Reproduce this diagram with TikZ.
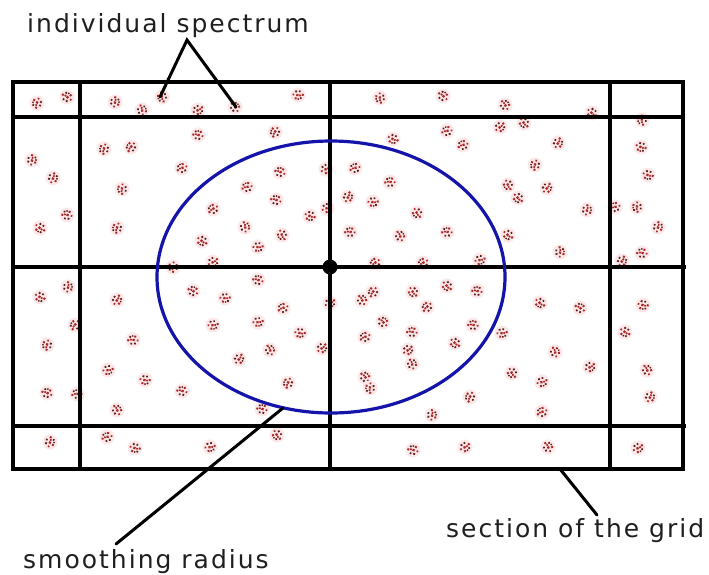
\documentclass[tikz,border=0pt]{standalone}
\usepackage{fontspec}
\setmainfont{DejaVu Sans}[LetterSpace=8]
\begin{document}
\begin{tikzpicture}[x=1pt,y=-1pt,
  gridline/.style={line width=4pt,black},
  leader/.style={line width=3pt,black,line cap=round},
  circ/.style={line width=3.2pt,draw={rgb,255:red,20;green,20;blue,170}},
  lbl/.style={font=\fontsize{25}{28}\selectfont,text=black!88,inner sep=0pt,anchor=base west},
  halo/.style={fill={rgb,255:red,252;green,232;blue,232}},
  sred/.style={fill={rgb,255:red,170;green,40;blue,40}},
  sdark/.style={fill={rgb,255:red,90;green,30;blue,30}},
  spec/.pic={
    \fill[halo] (0,0) circle (7.5);
    \fill[sred] (-4,-2.5) circle (1.4);
    \fill[sdark] (-0.5,-4.2) circle (1.2);
    \fill[sred] (3.8,-1.5) circle (1.4);
    \fill[sdark] (-3.5,2) circle (1.2);
    \fill[sred] (0.5,0.3) circle (1.6);
    \fill[sred] (-1.5,-1.5) circle (1.2);
    \fill[sred] (3.5,3) circle (1.2);
    \fill[sdark] (-0.5,4) circle (1.3);
    \fill[sdark] (2,-3.5) circle (1);
  }]
\useasboundingbox (0,0) rectangle (709,574);
\fill[white] (0,0) rectangle (709,574);

% red speckles (individual spectra)
\pgfmathsetseed{11}
\foreach \px/\py in {
 37/103, 67/97, 115/102, 142/110, 162/97, 198/110, 235/107, 298/95,
 198/135, 275/132, 104/149, 131/147, 32/160, 53/178, 182/168, 280/172,
 326/169, 355/168, 122/189, 247/187, 276/200, 67/215, 213/209, 310/216,
 327/208, 348/197, 40/228, 117/228, 245/227, 282/235, 350/232, 202/241,
 258/247, 213/262, 173/267,
 380/98, 443/96, 505/105, 592/113, 447/131, 500/127, 524/123, 642/120,
 393/139, 463/145, 558/143, 641/147, 535/165, 648/175, 390/182, 508/185,
 547/188, 518/198, 373/202, 417/213, 587/210, 615/207, 637/207, 658/227,
 400/236, 447/232, 508/235, 560/252, 375/263, 423/263, 480/260, 622/261,
 642/253,
 68/287, 40/297, 117/300, 193/291, 258/280, 225/298, 283/308, 330/303,
 75/325, 213/325, 258/322, 300/333, 47/345, 133/340, 270/350, 322/348,
 239/359, 108/370, 145/380, 182/391, 288/383, 47/393, 77/394, 117/410,
 262/409, 50/442, 107/437, 135/448, 210/447, 277/435,
 373/292, 413/292, 447/286, 477/291, 362/300, 427/307, 383/322, 365/337,
 412/332, 473/325, 502/333, 540/303, 580/308, 643/305, 625/332, 408/350,
 412/364, 455/343, 555/352, 590/367, 647/370, 365/377, 370/388, 512/373,
 542/382, 470/397, 650/397, 432/415, 542/412, 413/450, 465/447, 548/447,
 638/448}
{
  \pgfmathsetmacro\rot{random(0,359)}
  \pic[rotate=\rot] at (\px,\py) {spec};
}

% grid
\draw[gridline] (13,82) rectangle (683,469);
\draw[gridline] (13,117) -- (683,117);
\draw[gridline] (11,267) -- (686,267);
\draw[gridline] (13,426) -- (686,426);
\draw[gridline] (80,82) -- (80,469);
\draw[gridline] (330,82) -- (330,469);
\draw[gridline] (610,82) -- (610,469);

% smoothing circle and its centre
\draw[circ] (331,277) ellipse [x radius=174, y radius=136];
\fill (330,267) circle (7.5);

% labels
\node[lbl] (lspec) at (27,32) {individual spectrum};
\node[lbl] (lrad) at (23,568) {smoothing radius};
\node[lbl] (lgrid) at (446,537) {section of the grid};

% leader lines
\coordinate (apex) at (187,40);
\coordinate (specA) at (160,97);
\coordinate (specB) at (236,107);
\coordinate (radA) at (283,408);
\coordinate (radB) at (116,544);
\coordinate (gridA) at (560,469);
\coordinate (gridB) at (597,515);
\draw[leader] (specA) -- (apex) -- (specB);
\draw[leader] (radA) -- (radB);
\draw[leader] (gridA) -- (gridB);
\end{tikzpicture}
\end{document}
